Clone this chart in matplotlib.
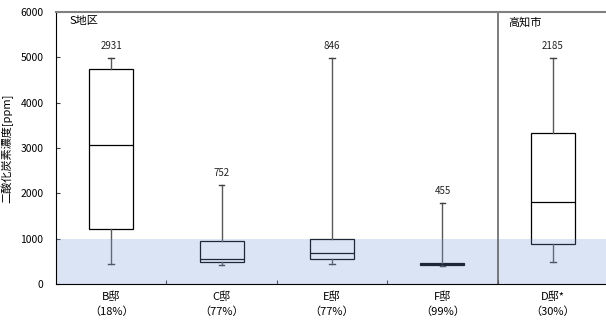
import matplotlib
matplotlib.use("Agg")
import matplotlib.pyplot as plt

plt.rcParams['font.family'] = ['Noto Sans CJK JP', 'DejaVu Sans']

# Residences and share of time below 1000 ppm
houses = ["B邸", "C邸", "E邸", "F邸", "D邸*"]
shares = ["（18%）", "（77%）", "（77%）", "（99%）", "（30%）"]

# Box statistics per residence [ppm]
whisker_low = [440, 419, 435, 395, 478]
q1 = [1213, 485, 545, 420, 875]
median = [3065, 558, 690, 445, 1800]
q3 = [4740, 955, 993, 470, 3330]
whisker_high = [4990, 2185, 4990, 1794, 4990]
mean_label = [2931, 752, 846, 455, 2185]

threshold = 1000
y_ticks = [0, 1000, 2000, 3000, 4000, 5000, 6000]

fig = plt.figure(figsize=(6.06, 3.20), dpi=100)
ax = fig.add_axes([56 / 606, 36 / 320, 552 / 606, 272 / 320])

stats = []
for i in range(len(houses)):
    stats.append(dict(whislo=whisker_low[i], q1=q1[i], med=median[i],
                      q3=q3[i], whishi=whisker_high[i], label=houses[i]))

positions = list(range(1, len(houses) + 1))
ax.bxp(stats, positions=positions, widths=0.4, showfliers=False,
       patch_artist=True,
       boxprops=dict(facecolor='white', edgecolor='black', linewidth=0.9),
       medianprops=dict(color='black', linewidth=0.9),
       whiskerprops=dict(color='#595959', linewidth=1.0),
       capprops=dict(color='#404040', linewidth=1.0),
       capwidths=0.05)

# Shaded band below the 1000 ppm guideline
ax.axhspan(0, threshold, color='#7399D6', alpha=0.26, zorder=5, linewidth=0)

# Mean value labels above each upper whisker
for x, top, m in zip(positions, whisker_high, mean_label):
    ax.annotate(str(m), (x, top), xytext=(0, 8.5), textcoords='offset points',
                ha='center', va='center', fontsize=7, color='#222222')

# Separator between S district and Kochi city
ax.axvline(4.5, color='#595959', linewidth=1.1, zorder=6)
ax.text(0.62, 5800, "S地区", fontsize=8, va='center', ha='left')
ax.text(4.6, 5770, "高知市", fontsize=8, va='center', ha='left')

ax.set_xlim(0.5, 5.5)
ax.set_ylim(0, 6000)
ax.set_yticks(y_ticks)
ax.set_yticklabels([str(v) for v in y_ticks], fontsize=7.5)
ax.set_xticks([1.5, 2.5, 3.5, 4.5])
ax.set_xticklabels([])
ax.tick_params(axis='both', direction='in', length=3, width=0.8, color='#404040')
ax.tick_params(axis='y', pad=9)

for x, h, s in zip(positions, houses, shares):
    ax.text(x, -290, h, ha='center', va='center', fontsize=8)
    ax.text(x, -620, s, ha='center', va='center', fontsize=8)

ax.set_ylabel("二酸化炭素濃度[ppm]", fontsize=8, labelpad=5)

ax.spines['left'].set_color('black')
ax.spines['bottom'].set_color('black')
ax.spines['top'].set_color('#808080')
ax.spines['top'].set_linewidth(1.5)
ax.spines['right'].set_visible(False)
for sp in ax.spines.values():
    sp.set_zorder(7)

fig.savefig("out.png", dpi=100)
